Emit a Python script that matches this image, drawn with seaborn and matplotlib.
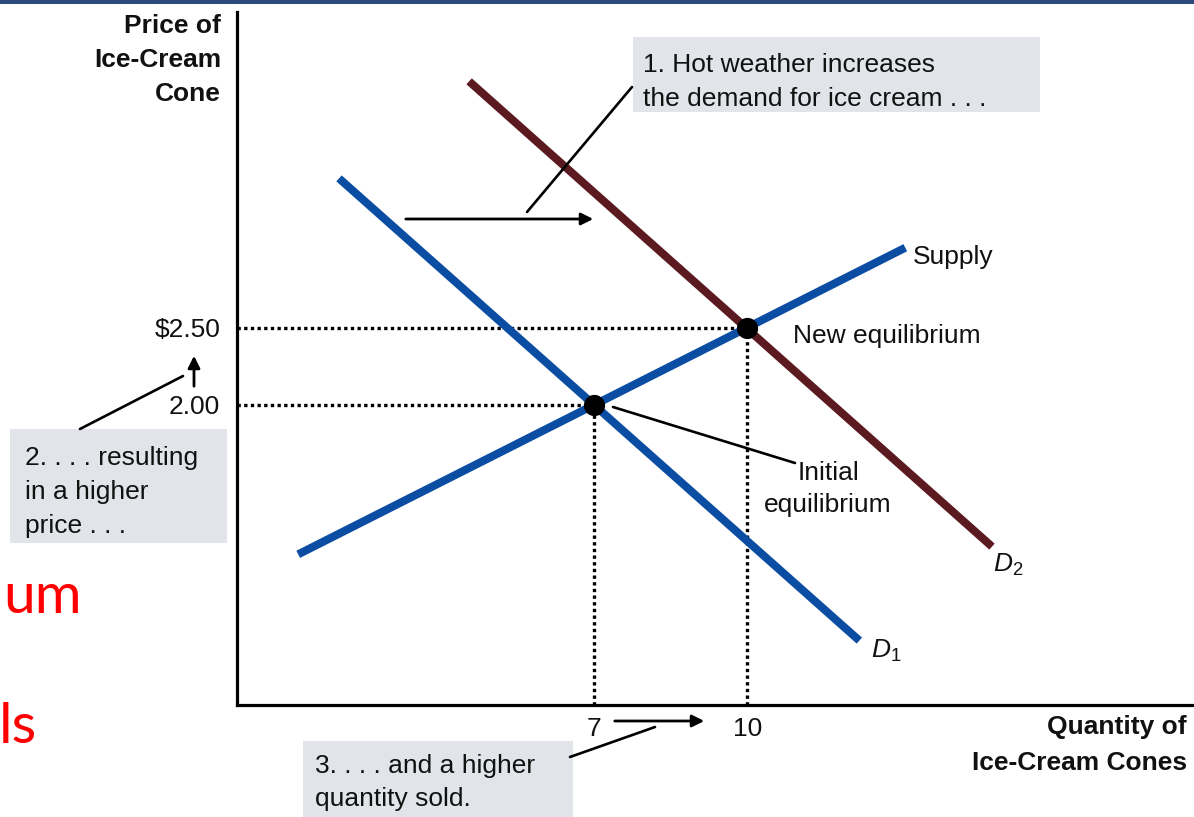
import matplotlib
matplotlib.use("Agg")
import matplotlib.pyplot as plt
from matplotlib.patches import Rectangle, FancyArrowPatch
from matplotlib.lines import Line2D
import seaborn as sns

# --- data -------------------------------------------------------------
# equilibrium points (quantity, price)
eq_quantity = [7, 10]
eq_price = [2.00, 2.50]

# curve end points
supply_q = [1.2, 13.1]
supply_p = [1.03, 3.02]
d1_q = [2.0, 12.2]
d1_p = [3.47, 0.47]
d2_q = [4.55, 14.8]
d2_p = [4.10, 1.08]

price_ticks = [2.50, 2.00]
price_tick_labels = ["\\$2.50", "2.00"]
qty_ticks = [7, 10]
qty_tick_labels = ["7", "10"]

# --- style ------------------------------------------------------------
W, H = 1194, 817
sns.set_theme(style="white")
plt.rcParams["font.family"] = ["Liberation Sans", "DejaVu Sans"]
plt.rcParams["mathtext.fontset"] = "custom"
plt.rcParams["mathtext.it"] = "Liberation Sans:italic"
plt.rcParams["mathtext.rm"] = "Liberation Sans"

BLUE = "#0A4DA2"
MAROON = "#5B1A1F"
BOX = "#E1E4E9"
FS = 19

fig = plt.figure(figsize=(W / 100, H / 100), dpi=100)
fig.patch.set_facecolor("white")


def fx(px):
    return px / W


def fy(py):
    return 1 - py / H


# plotting area (transparent so the callout boxes behind it show through)
ax = fig.add_axes([fx(237), fy(705), fx(1194) - fx(237), fy(12) - fy(705)])
ax.set_xlim(0, 18.76)
ax.set_ylim(0.052, 4.55)
ax.patch.set_visible(False)
for side in ["top", "right"]:
    ax.spines[side].set_visible(False)
for side in ["left", "bottom"]:
    ax.spines[side].set_color("black")
    ax.spines[side].set_linewidth(2.3)
ax.grid(False)

ax.set_yticks(price_ticks, price_tick_labels)
ax.set_xticks(qty_ticks, qty_tick_labels)
ax.tick_params(axis="both", length=0, labelsize=FS, colors="#111111")
ax.tick_params(axis="y", pad=12)
ax.tick_params(axis="x", pad=9)
ax.set_xlabel("")
ax.set_ylabel("")

# dotted guides to the equilibrium prices and quantities
ax.hlines(eq_price, 0, eq_quantity, colors="black", linestyles=(0, (1, 1)), lw=2.4, zorder=2)
ax.vlines(eq_quantity, 0.052, eq_price, colors="black", linestyles=(0, (1, 1)), lw=2.4, zorder=2)

# curves
sns.lineplot(x=supply_q, y=supply_p, ax=ax, color=BLUE, lw=5.8, solid_capstyle="butt", zorder=3)
sns.lineplot(x=d1_q, y=d1_p, ax=ax, color=BLUE, lw=5.8, solid_capstyle="butt", zorder=3)
sns.lineplot(x=d2_q, y=d2_p, ax=ax, color=MAROON, lw=5.8, solid_capstyle="butt", zorder=3)

# equilibrium points
sns.scatterplot(x=eq_quantity, y=eq_price, ax=ax, s=200, color="black",
                edgecolor="black", zorder=5, clip_on=False)


# --- text and annotations ----------------------------------------------
def text(px, py, s, **kw):
    kw.setdefault("fontsize", FS)
    kw.setdefault("va", "baseline")
    kw.setdefault("color", "#111111")
    fig.text(fx(px), fy(py), s, **kw)


def seg(p0, p1, lw=1.9):
    fig.add_artist(Line2D([fx(p0[0]), fx(p1[0])], [fy(p0[1]), fy(p1[1])],
                          color="black", lw=lw, transform=fig.transFigure))


def arrow(p0, p1):
    fig.add_artist(FancyArrowPatch((fx(p0[0]), fy(p0[1])), (fx(p1[0]), fy(p1[1])),
                                   transform=fig.transFigure, arrowstyle="-|>",
                                   mutation_scale=18, lw=2.0, color="black"))


def box(x0, y0, x1, y1):
    fig.add_artist(Rectangle((fx(x0), fy(y1)), fx(x1) - fx(x0), fy(y0) - fy(y1),
                             transform=fig.transFigure, facecolor=BOX,
                             edgecolor="none", zorder=-1))


# axis titles
for line, base in [("Price of", 33), ("Ice-Cream", 67), ("Cone", 101)]:
    text(221, base, line, ha="right", fontweight="bold")
text(1187, 734, "Quantity of", ha="right", fontweight="bold")
text(1187, 770, "Ice-Cream Cones", ha="right", fontweight="bold")

# curve labels
text(913, 264, "Supply", ha="left")
text(793, 343, "New equilibrium", ha="left")
text(829, 480, "Initial", ha="center")
text(828, 512, "equilibrium", ha="center")
seg((613, 407), (795, 463))
text(993, 572, "$D_{2}$", ha="left")
text(871, 658, "$D_{1}$", ha="left")

# callout 1: demand shift
box(633, 37, 1040, 112)
text(643, 72, "1. Hot weather increases", ha="left")
text(643, 106, "the demand for ice cream . . .", ha="left")
seg((632, 87), (527, 212))
arrow((403, 219), (596, 219))

# callout 2: price rise
box(10, 429, 227, 543)
text(25, 465, "2. . . . resulting", ha="left")
text(25, 499, "in a higher", ha="left")
text(25, 533, "price . . .", ha="left")
seg((80, 429), (183, 376))
arrow((194, 389), (194, 353))

# callout 3: quantity rise
box(303, 741, 573, 817)
text(315, 773, "3. . . . and a higher", ha="left")
text(315, 806, "quantity sold.", ha="left")
seg((570, 757), (655, 727))
arrow((612, 721), (707, 721))

# slide text running in from the left edge
text(82, 613, "um", ha="right", color="#FF0000", fontsize=41, family="Lato")
text(37, 743, "ls", ha="right", color="#FF0000", fontsize=41, family="Lato")

# header band
fig.add_artist(Rectangle((0, fy(4)), 1, fy(0) - fy(4), transform=fig.transFigure,
                         facecolor="#2C4A7C", edgecolor="none"))

fig.savefig("out.png", dpi=100, facecolor="white")
